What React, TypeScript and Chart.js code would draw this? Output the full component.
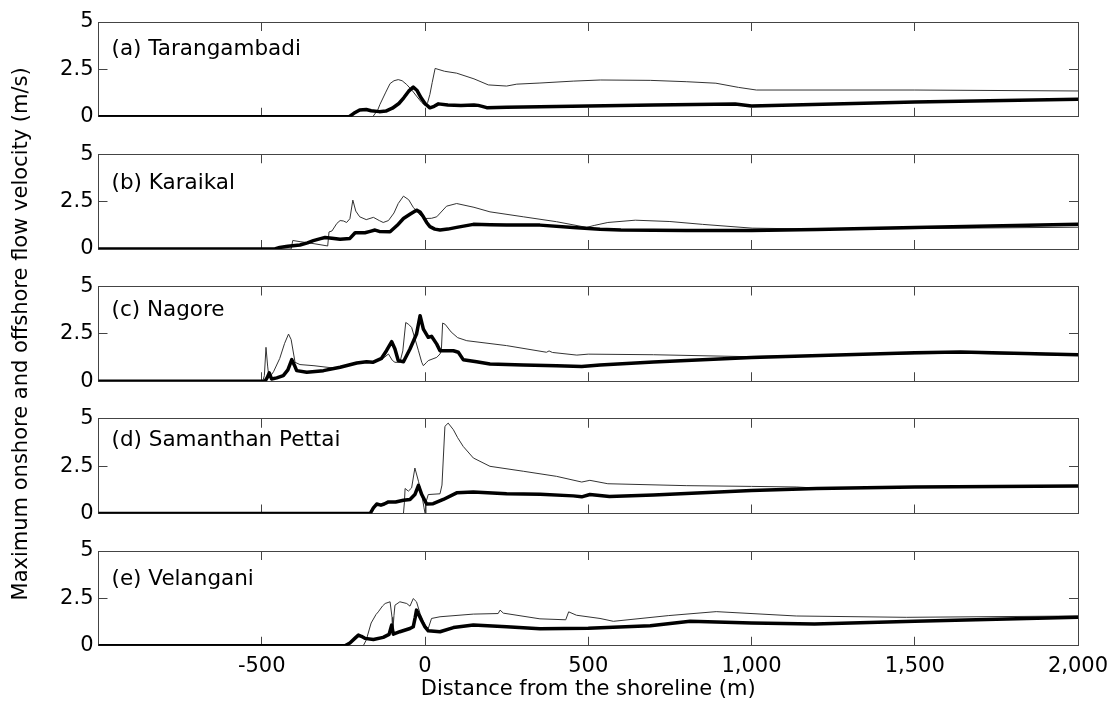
import React, { useEffect, useRef } from 'react';
import { Chart, registerables } from 'chart.js';

Chart.register(...registerables);

// ---------------- data ----------------
const panelTitles = ['(a) Tarangambadi', '(b) Karaikal', '(c) Nagore', '(d) Samanthan Pettai', '(e) Velangani'];
const xTitle = 'Distance from the shoreline (m)';
const yTitle = 'Maximum onshore and offshore flow velocity (m/s)';
const xTickValues = [-500, 0, 500, 1000, 1500, 2000];
const xTickLabels = ['-500', '0', '500', '1,000', '1,500', '2,000'];
const yTickValues = [0, 2.5, 5];
const yTickLabels = ['0', '2.5', '5'];
const xRange = [-1000, 2000];
const yRange = [0, 5];

const tarangambadiThin: [number, number][] = [
  [-1000, 0], [-160, 0], [-145, 0.35], [-138, 0.65], [-120, 1.3], [-107, 1.75], [-95, 1.9], [-82, 1.96],
  [-70, 1.9], [-56, 1.7], [-40, 1.4], [-26, 1.09], [-10, 0.75], [0, 0.6], [8, 0.75], [15, 1.18], [22, 1.8],
  [31, 2.55], [60, 2.4], [97, 2.3], [150, 2.0], [194, 1.68], [250, 1.62], [281, 1.72], [352, 1.78],
  [454, 1.88], [537, 1.94], [690, 1.92], [800, 1.85], [891, 1.77], [960, 1.55], [1015, 1.41], [1500, 1.41], [2000, 1.36],
];
const tarangambadiThick: [number, number][] = [
  [-1000, 0], [-232, 0], [-218, 0.18], [-200, 0.36], [-180, 0.38], [-165, 0.32], [-140, 0.27], [-120, 0.3],
  [-100, 0.45], [-80, 0.7], [-65, 1.0], [-50, 1.35], [-36, 1.56], [-25, 1.4], [-12, 1.0], [0, 0.7], [15, 0.47],
  [28, 0.55], [41, 0.68], [70, 0.62], [110, 0.6], [150, 0.62], [163, 0.6], [175, 0.55], [189, 0.48], [250, 0.5],
  [352, 0.53], [500, 0.57], [700, 0.62], [950, 0.67], [1000, 0.57], [1500, 0.78], [2000, 0.92],
];

const karaikalThin: [number, number][] = [
  [-1000, 0], [-410, 0], [-405, 0.45], [-380, 0.38], [-340, 0.28], [-298, 0.16], [-294, 0.9], [-285, 0.95],
  [-270, 1.35], [-260, 1.5], [-250, 1.48], [-240, 1.4], [-230, 1.6], [-221, 2.58], [-212, 2.0], [-200, 1.7],
  [-180, 1.55], [-158, 1.67], [-140, 1.5], [-128, 1.4], [-112, 1.5], [-95, 1.9], [-82, 2.4], [-66, 2.79],
  [-50, 2.6], [-36, 2.2], [-15, 1.79], [0, 1.61], [20, 1.62], [36, 1.7], [66, 2.26], [97, 2.4], [150, 2.2],
  [199, 1.96], [301, 1.7], [403, 1.44], [495, 1.14], [520, 1.25], [560, 1.4], [644, 1.52], [750, 1.45],
  [850, 1.3], [1002, 1.1], [1200, 1.05], [1500, 1.08], [2000, 1.15],
];
const karaikalThick: [number, number][] = [
  [-1000, 0], [-460, 0], [-445, 0.08], [-420, 0.15], [-383, 0.21], [-360, 0.32], [-342, 0.44], [-320, 0.55],
  [-306, 0.61], [-285, 0.57], [-260, 0.51], [-230, 0.56], [-214, 0.86], [-184, 0.86], [-168, 0.93], [-153, 1.0],
  [-140, 0.93], [-107, 0.91], [-85, 1.25], [-66, 1.61], [-45, 1.85], [-26, 2.05], [-15, 1.95], [-5, 1.7],
  [5, 1.4], [15, 1.18], [30, 1.05], [46, 1.0], [70, 1.05], [97, 1.14], [148, 1.3], [200, 1.28], [250, 1.26],
  [352, 1.26], [454, 1.14], [536, 1.04], [600, 1.0], [800, 0.98], [1000, 0.98], [1200, 1.03], [1500, 1.13], [2000, 1.3],
];

const nagoreThin: [number, number][] = [
  [-1000, 0], [-497, 0], [-492, 0.3], [-487, 1.79], [-482, 0.8], [-478, 0.2], [-470, 0.35], [-464, 0.5],
  [-445, 1.2], [-430, 2.0], [-418, 2.49], [-410, 2.2], [-398, 1.0], [-383, 0.88], [-340, 0.82], [-291, 0.72],
  [-260, 0.74], [-209, 0.96], [-179, 1.03], [-150, 1.05], [-125, 1.25], [-112, 1.44], [-100, 1.1], [-92, 1.0],
  [-77, 1.0], [-68, 1.6], [-59, 3.1], [-50, 3.0], [-41, 2.84], [-30, 2.2], [-20, 1.61], [-10, 1.0], [-5, 0.82],
  [5, 1.0], [10, 1.09], [36, 1.26], [46, 1.44], [50, 1.6], [54, 3.07], [62, 3.0], [80, 2.6], [100, 2.3],
  [128, 2.14], [250, 1.88], [372, 1.53], [380, 1.6], [390, 1.52], [465, 1.38], [500, 1.43], [700, 1.4],
  [980, 1.3], [1500, 1.45], [1650, 1.48], [2000, 1.36],
];
const nagoreThick: [number, number][] = [
  [-1000, 0], [-490, 0], [-483, 0.2], [-477, 0.44], [-470, 0.12], [-454, 0.18], [-434, 0.3], [-420, 0.6],
  [-408, 1.14], [-400, 0.85], [-393, 0.56], [-362, 0.47], [-311, 0.56], [-260, 0.74], [-209, 0.96], [-179, 1.03],
  [-160, 1.0], [-133, 1.21], [-118, 1.61], [-102, 2.09], [-92, 1.7], [-82, 1.09], [-66, 1.03], [-46, 1.7],
  [-26, 2.49], [-15, 3.46], [-5, 2.75], [10, 2.32], [20, 2.37], [36, 1.96], [46, 1.61], [87, 1.61], [102, 1.53],
  [117, 1.14], [158, 1.03], [199, 0.91], [301, 0.86], [403, 0.82], [480, 0.78], [536, 0.86], [700, 1.02],
  [1000, 1.25], [1500, 1.5], [1640, 1.54], [2000, 1.4],
];

const samanthanThin: [number, number][] = [
  [-1000, 0], [-66, 0], [-63, 0.6], [-61, 1.32], [-51, 1.18], [-41, 1.35], [-31, 2.4], [-20, 1.7], [-10, 1.0],
  [-3, 0.3], [0, 0.02], [3, 0.6], [10, 1.0], [46, 1.04], [52, 1.5], [61, 4.6], [71, 4.77], [87, 4.42],
  [100, 4.0], [117, 3.54], [148, 2.93], [199, 2.49], [301, 2.23], [403, 1.96], [480, 1.66], [505, 1.75],
  [560, 1.57], [800, 1.47], [1000, 1.43], [1137, 1.4], [1200, 1.34], [1500, 1.4], [2000, 1.45],
];
const samanthanThick: [number, number][] = [
  [-1000, 0], [-168, 0], [-158, 0.3], [-148, 0.5], [-135, 0.44], [-125, 0.5], [-112, 0.61], [-90, 0.61],
  [-66, 0.7], [-46, 0.74], [-31, 1.0], [-20, 1.49], [-10, 1.0], [5, 0.5], [25, 0.52], [56, 0.74], [97, 1.09],
  [148, 1.14], [250, 1.04], [353, 1.02], [454, 0.93], [480, 0.88], [505, 1.0], [565, 0.9], [700, 0.98],
  [1000, 1.22], [1200, 1.32], [1500, 1.4], [2000, 1.45],
];

const velanganiThin: [number, number][] = [
  [-1000, 0], [-189, 0], [-180, 0.3], [-165, 1.2], [-150, 1.65], [-143, 1.79], [-130, 2.1], [-122, 2.23],
  [-107, 2.32], [-101, 1.5], [-99, 0.65], [-95, 1.6], [-92, 2.14], [-77, 2.32], [-56, 2.23], [-46, 2.09],
  [-36, 2.49], [-26, 2.32], [-15, 1.7], [0, 1.09], [10, 0.91], [20, 1.44], [46, 1.53], [148, 1.67], [224, 1.7],
  [230, 1.88], [240, 1.72], [352, 1.42], [431, 1.37], [440, 1.79], [464, 1.61], [536, 1.44], [577, 1.29],
  [745, 1.59], [892, 1.8], [1137, 1.57], [1474, 1.5], [2000, 1.57],
];
const velanganiThick: [number, number][] = [
  [-1000, 0], [-245, 0], [-230, 0.15], [-215, 0.39], [-204, 0.56], [-195, 0.5], [-184, 0.39], [-158, 0.33],
  [-128, 0.44], [-110, 0.6], [-102, 1.09], [-97, 0.61], [-77, 0.74], [-46, 0.91], [-36, 1.0], [-30, 1.5],
  [-26, 1.88], [-10, 1.32], [0, 1.0], [10, 0.79], [46, 0.74], [87, 0.96], [148, 1.09], [250, 1.0], [352, 0.9],
  [500, 0.92], [690, 1.06], [812, 1.29], [1000, 1.2], [1193, 1.15], [1500, 1.29], [2000, 1.5],
];

const thinSeries = [tarangambadiThin, karaikalThin, nagoreThin, samanthanThin, velanganiThin];
const thickSeries = [tarangambadiThick, karaikalThick, nagoreThick, samanthanThick, velanganiThick];

// ---------------- layout / style ----------------
const W = 1114;
const H = 702;
const PLOT_LEFT = 98.5;
const PLOT_RIGHT = 1078;
const PANEL_TOPS = [22, 154.25, 286.5, 418.75, 551];
const PANEL_H = 94.75;
const LABEL_DY = [27, 29, 24, 22, 28];
const LABEL_DX = 13;
const FONT_FAMILY = '"DejaVu Sans", sans-serif';
const FONT_SIZE = 21;
const LABEL_FONT_SIZE = 21.5;
const TEXT_COLOR = '#000';
const FRAME_COLOR = '#444';
const TICK_LEN = -9;

const panelLabelPlugin = {
  id: 'panelLabel',
  afterDraw(chart: any, _args: any, opts: any) {
    const { ctx, chartArea } = chart;
    ctx.save();
    ctx.font = `${LABEL_FONT_SIZE}px ${FONT_FAMILY}`;
    ctx.fillStyle = TEXT_COLOR;
    ctx.textAlign = 'left';
    ctx.textBaseline = 'middle';
    ctx.fillText(opts.text, chartArea.left + LABEL_DX, chartArea.top + opts.dy);
    ctx.restore();
  },
};

function noPad(s: any) {
  s.paddingLeft = 0;
  s.paddingRight = 0;
  s.paddingTop = 0;
  s.paddingBottom = 0;
}

function makeConfig(i: number): any {
  const isLast = i === thinSeries.length - 1;
  const isMid = i === 2;
  const top = PANEL_TOPS[i];
  const bottom = top + PANEL_H;
  const xAxisH = isLast ? H - bottom : 0;
  const font = { family: FONT_FAMILY, size: FONT_SIZE };
  const grid = { drawOnChartArea: false, drawTicks: true, tickLength: TICK_LEN, color: FRAME_COLOR, lineWidth: 1 };
  const border = { display: true, color: FRAME_COLOR, width: 1 };
  const setX = (s: any) => { s.ticks = xTickValues.map((v) => ({ value: v })); };
  const setY = (s: any) => { s.ticks = yTickValues.map((v) => ({ value: v })); };
  return {
    type: 'line',
    data: {
      datasets: [
        {
          data: thickSeries[i].map(([x, y]) => ({ x, y })),
          borderColor: '#000', borderWidth: 3.5, pointRadius: 0, tension: 0,
          borderJoinStyle: 'round', borderCapStyle: 'round', xAxisID: 'x', yAxisID: 'y',
        },
        {
          data: thinSeries[i].map(([x, y]) => ({ x, y })),
          borderColor: '#333', borderWidth: 1, pointRadius: 0, tension: 0,
          xAxisID: 'x', yAxisID: 'y',
        },
      ],
    },
    options: {
      animation: false,
      responsive: false,
      maintainAspectRatio: false,
      events: [],
      layout: { padding: { left: 0, right: W - PLOT_RIGHT, top, bottom: H - bottom - xAxisH } },
      plugins: {
        legend: { display: false },
        tooltip: { enabled: false },
        panelLabel: { text: panelTitles[i], dy: LABEL_DY[i] },
      },
      scales: {
        x: {
          type: 'linear', position: 'bottom', min: xRange[0], max: xRange[1],
          afterBuildTicks: setX,
          ticks: {
            display: isLast, font, color: TEXT_COLOR, padding: 17, maxRotation: 0, autoSkip: false,
            callback: (v: number) => { const k = xTickValues.indexOf(v); return k >= 0 ? xTickLabels[k] : ''; },
          },
          grid, border,
          title: { display: isLast, text: xTitle, font, color: TEXT_COLOR, padding: 0 },
          afterFit: (s: any) => { s.height = xAxisH; noPad(s); },
        },
        xTop: {
          type: 'linear', position: 'top', min: xRange[0], max: xRange[1],
          afterBuildTicks: setX,
          ticks: { display: false },
          grid, border,
          afterFit: (s: any) => { s.height = 0; noPad(s); },
        },
        y: {
          type: 'linear', position: 'left', min: yRange[0], max: yRange[1],
          afterBuildTicks: setY,
          ticks: {
            display: true, font, color: TEXT_COLOR, padding: 14,
            callback: (v: number) => { const k = yTickValues.indexOf(v); return k >= 0 ? yTickLabels[k] : ''; },
          },
          grid, border,
          title: { display: isMid, text: yTitle, font, color: TEXT_COLOR, padding: { top: 9, bottom: 0 } },
          afterFit: (s: any) => { s.width = PLOT_LEFT; noPad(s); },
        },
        yRight: {
          type: 'linear', position: 'right', min: yRange[0], max: yRange[1],
          afterBuildTicks: setY,
          ticks: { display: false },
          grid, border,
          afterFit: (s: any) => { s.width = 0; noPad(s); },
        },
      },
    },
    plugins: [panelLabelPlugin],
  };
}

function Panel({ index }: { index: number }) {
  const ref = useRef<HTMLCanvasElement | null>(null);
  useEffect(() => {
    if (!ref.current) return;
    const chart = new Chart(ref.current, makeConfig(index));
    return () => chart.destroy();
  }, [index]);
  return (
    <canvas
      ref={ref}
      width={W}
      height={H}
      style={{ position: 'absolute', left: 0, top: 0, width: W, height: H }}
    />
  );
}

export default function App() {
  return (
    <div style={{ position: 'absolute', left: 0, top: 0, width: W, height: H, background: '#fff', overflow: 'hidden' }}>
      {thinSeries.map((_, i) => (
        <Panel key={i} index={i} />
      ))}
    </div>
  );
}
